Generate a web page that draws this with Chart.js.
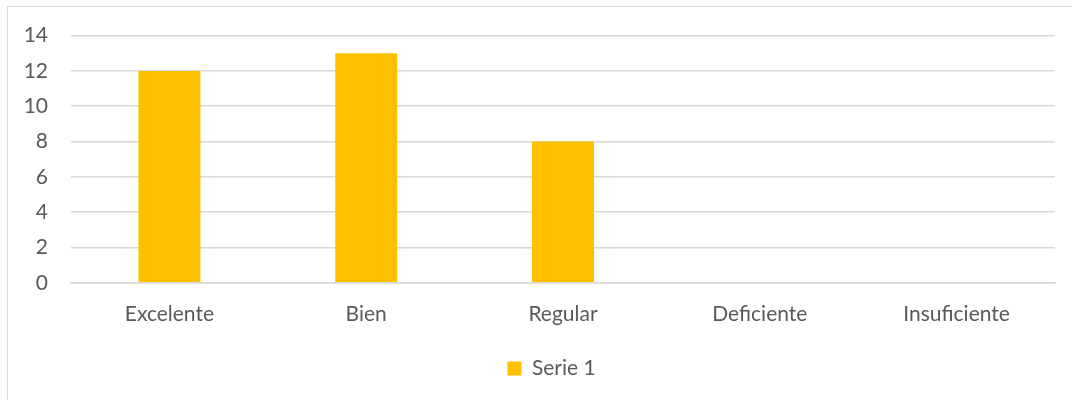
<!DOCTYPE html>
<html>
<head>
<meta charset="utf-8">
<script src="https://cdn.jsdelivr.net/npm/chart.js@4.4.0/dist/chart.umd.min.js"></script>
<style>
  body { margin: 0; background: #fff; }
  #wrap { position: relative; width: 1072px; height: 400px; overflow: hidden; }
  #frame { position: absolute; left: 7px; top: 6px; width: 1100px; height: 420px;
           border: 1.5px solid #d9d9d9; box-sizing: border-box; }
  canvas { position: absolute; left: 0; top: 0; }
</style>
</head>
<body>
<div id="wrap">
  <div id="frame"></div>
  <canvas id="chart" width="1072" height="400"></canvas>
</div>
<script>
// categorías y valores
var categories = ['Excelente', 'Bien', 'Regular', 'Deficiente', 'Insuficiente'];
var serie1 = [12, 13, 8, 0, 0];
var yMin = 0, yMax = 14, yStep = 2;

var textColor = '#595959';
var gridColor = '#d9d9d9';
var fontFamily = 'Lato, Open Sans, sans-serif';

// la leyenda de Excel queda algo a la derecha del centro
var legendShift = {
    id: 'legendShift',
    afterLayout: function (chart) {
        chart.legend.left += 24;
        chart.legend.right += 24;
    }
};

var ctx = document.getElementById('chart').getContext('2d');

var chart = new Chart(ctx, {
    type: 'bar',
    data: {
        labels: categories,
        datasets: [
            {
                label: 'Serie 1',
                data: serie1,
                backgroundColor: '#ffc000',
                borderWidth: 0,
                categoryPercentage: 1.0,
                barPercentage: 0.315
            }
        ]
    },
    options: {
        responsive: false,
        animation: false,
        layout: { padding: { top: 28, right: 17, bottom: 11, left: 0 } },
        plugins: {
            legend: {
                position: 'bottom',
                labels: {
                    color: textColor,
                    font: { family: fontFamily, size: 21 },
                    boxWidth: 14,
                    boxHeight: 14,
                    padding: 12
                }
            },
            tooltip: { enabled: false }
        },
        scales: {
            x: {
                grid: { display: false, drawTicks: false },
                border: { display: true, color: gridColor, width: 1.5 },
                ticks: {
                    color: textColor,
                    font: { family: fontFamily, size: 21 },
                    padding: 19
                }
            },
            y: {
                min: yMin,
                max: yMax,
                afterFit: function (scale) { scale.width = 71; },
                grid: { color: gridColor, lineWidth: 1.5, drawTicks: false },
                border: { display: false },
                ticks: {
                    stepSize: yStep,
                    color: textColor,
                    font: { family: fontFamily, size: 21 },
                    padding: 23
                }
            }
        }
    },
    plugins: [legendShift]
});
</script>
</body>
</html>
